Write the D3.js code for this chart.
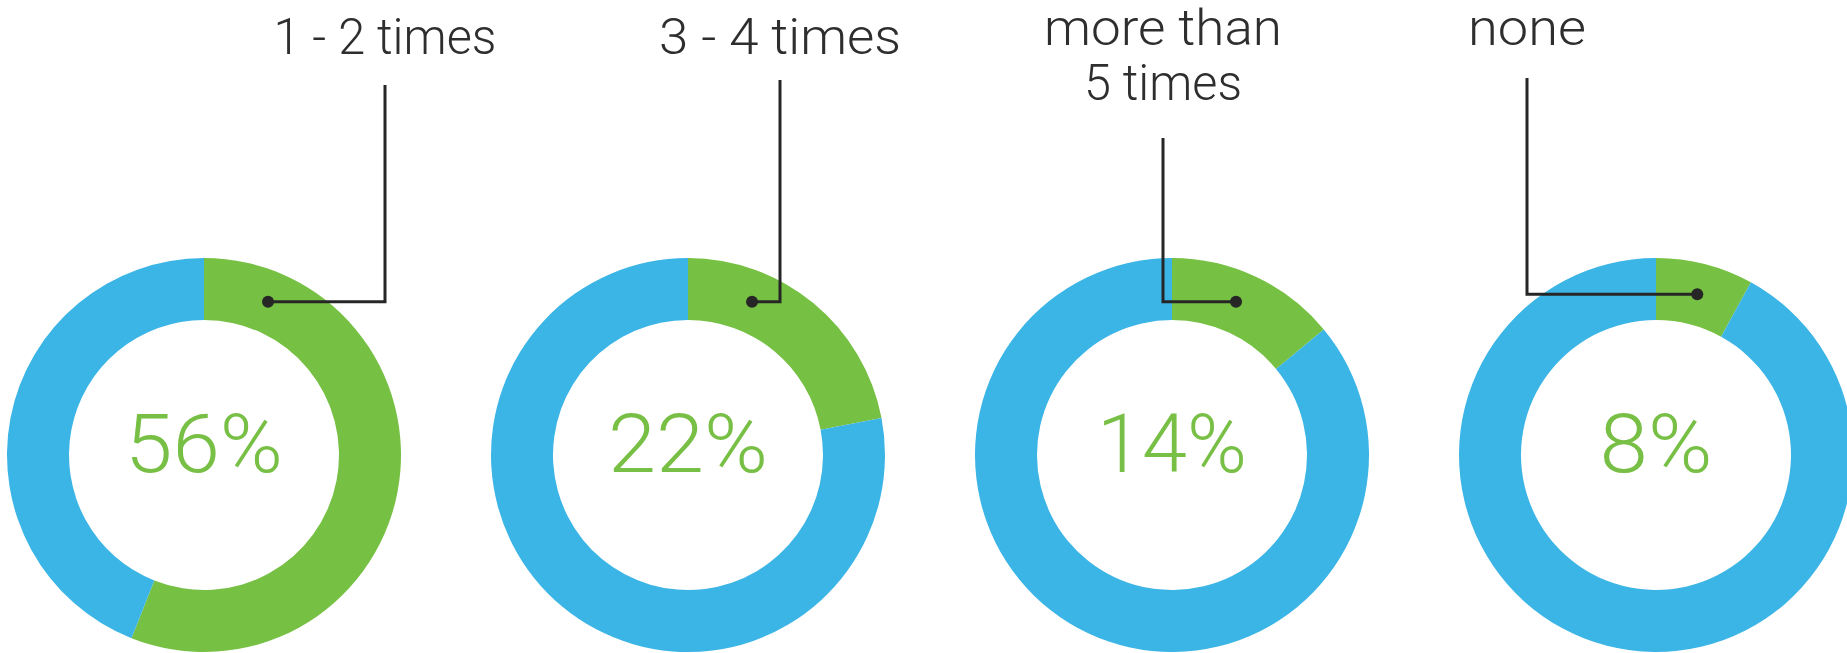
<!DOCTYPE html>
<html>
<head>
<meta charset="utf-8">
<script src="https://cdn.jsdelivr.net/npm/d3@7"></script>
<style>
  html, body { margin: 0; padding: 0; background: #ffffff; }
  svg { display: block; }
</style>
</head>
<body>
<svg id="chart" width="1847" height="653"></svg>
<script>
// ---- data ----
const categories = ["1 - 2 times", "3 - 4  times", "more than 5 times", "none"];
const labelLines = [["1 - 2 times"], ["3 - 4  times"], ["more than", "5 times"], ["none"]];
const shares = [56, 22, 14, 8];
const total = 100;

// ---- layout (not data) ----
const W = 1847, H = 653;
const cy = 455, rOuter = 197, rInner = 135;
const labelX = [385, 780, 1163, 1527];
const labelBaseline = [54, 54, 45, 45];
const labelWidths = [[223], [242], [238, 158], [118]];
const pctWidths = [158, 160, 150, 113];
const leaderTop = [85, 80, 138, 78];
const lineGap = 55;
const green = "#76c043", blue = "#3bb4e6", textGreen = "#78bf45", dark = "#262626";

const svg = d3.select("#chart");

const x = d3.scalePoint().domain(categories).range([204, 1656]);

const pie = d3.pie().sort(null).value(d => d.v);
const arc = d3.arc().innerRadius(rInner).outerRadius(rOuter);
const rMid = (rInner + rOuter) / 2;
const maxDotAngle = 0.396;

categories.forEach((cat, i) => {
  const cx = x(cat);
  const g = svg.append("g").attr("transform", `translate(${cx},${cy})`);
  const arcs = pie([{k: "share", v: shares[i]}, {k: "rest", v: total - shares[i]}]);
  g.selectAll("path").data(arcs).join("path")
    .attr("d", arc)
    .attr("fill", d => d.data.k === "share" ? green : blue);

  g.append("text")
    .attr("x", 0).attr("y", 472 - cy)
    .attr("text-anchor", "middle")
    .attr("font-family", "Roboto, 'Open Sans', sans-serif")
    .attr("font-weight", 300)
    .attr("font-size", 82)
    .attr("fill", textGreen)
    .attr("textLength", pctWidths[i])
    .attr("lengthAdjust", "spacingAndGlyphs")
    .text(shares[i] + "%");

  // leader dot position on green slice
  const a = arcs[0];
  const ang = Math.min((a.startAngle + a.endAngle) / 2, maxDotAngle);
  const dx = cx + rMid * Math.sin(ang);
  const dy = cy - rMid * Math.cos(ang);
  const lx = labelX[i];

  svg.append("path")
    .attr("d", `M${dx},${dy}H${lx}V${leaderTop[i]}`)
    .attr("fill", "none")
    .attr("stroke", dark)
    .attr("stroke-width", 3);
  svg.append("circle")
    .attr("cx", dx).attr("cy", dy).attr("r", 6)
    .attr("fill", dark);

  labelLines[i].forEach((ln, j) => {
    svg.append("text")
      .attr("x", lx)
      .attr("y", labelBaseline[i] + j * lineGap)
      .attr("text-anchor", "middle")
      .attr("font-family", "Roboto, 'Open Sans', sans-serif")
      .attr("font-weight", 300)
      .attr("font-size", 50)
      .attr("fill", "#2e2e2e")
      .attr("textLength", labelWidths[i][j])
      .attr("lengthAdjust", "spacingAndGlyphs")
      .text(ln);
  });
});
</script>
</body>
</html>
